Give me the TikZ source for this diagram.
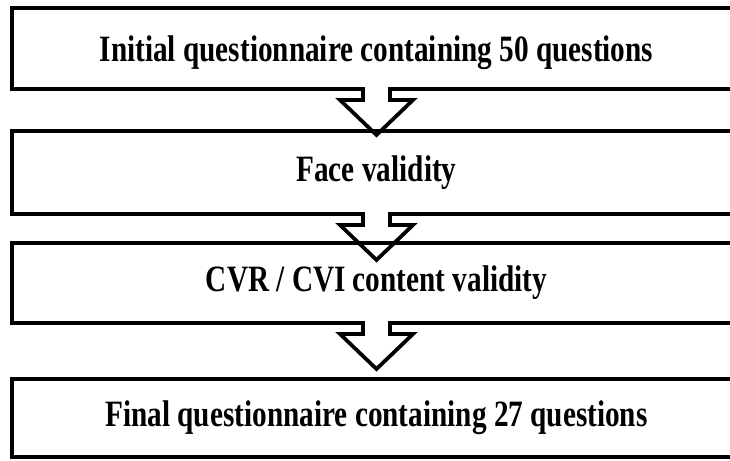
\documentclass[tikz,border=0pt]{standalone}
\usepackage{fontspec}
\setmainfont{Liberation Serif}
\usepackage{graphicx}
\usepackage{tikz}
\usetikzlibrary{positioning}

% stretched bold label, as in the scanned chart
\newcommand{\tall}[1]{\scalebox{0.96}[1.22]{#1}}

% hollow notched arrow hanging from the bottom edge of a box
\newcommand{\notcharrow}[1]{%
  \fill[white] ([xshift=-11.5*0.03cm, yshift=3pt]#1.south) rectangle ([xshift=11.5*0.03cm, yshift=-3pt]#1.south);
  \draw[arr] ([xshift=-13.5*0.03cm]#1.south) -- ++(0,11) -- ++(-23,0)
    -- ++(36.5,35) coordinate (#1tip) -- ++(36.5,-35) -- ++(-23,0) -- ++(0,-11);
}

\begin{document}
\begin{tikzpicture}[
  x=0.03cm, y=-0.03cm,
  every node/.style={font=\bfseries\fontsize{26}{30}\selectfont},
  box/.style={draw=black, line width=3.5pt, minimum width=21.87cm,
              inner sep=0pt, outer sep=0pt, align=center},
  arr/.style={draw=black, line width=3.2pt, line join=miter}
]
\useasboundingbox (0,0) rectangle (730,461);

\node[box, minimum height=2.43cm, text height=1.05cm, text depth=0.25cm] (init) at (376.5,48.5) {\tall{Initial questionnaire containing 50 questions}};
\node[box, minimum height=2.49cm, below=1.26cm of init] (face) {\tall{Face validity}};
\node[box, minimum height=2.40cm, below=0.87cm of face] (cvr) {\tall{CVR / CVI content validity}};
\node[box, minimum height=2.34cm, below=1.68cm of cvr] (final) {\tall{Final questionnaire containing 27 questions}};

\notcharrow{init}
\notcharrow{face}
\notcharrow{cvr}
\end{tikzpicture}
\end{document}
